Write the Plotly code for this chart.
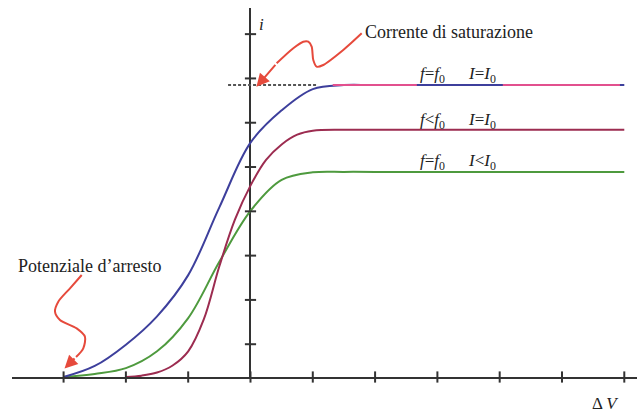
import plotly.graph_objects as go

# ---- data (axis units: x ticks every 1, y ticks every 1 offset) ----
x_ticks = [-3, -2, -1, 0, 1, 2, 3, 4, 5, 6]
y_ticks = [0.74, 1.74, 2.74, 3.74, 4.74, 5.74, 6.74, 7.74]

blue_x = [-3.0, -2.5, -2.0, -1.5, -1.0, -0.5, 0.0, 0.5, 1.0, 1.5, 2.0, 6.0]
blue_y = [0.0, 0.25, 0.73, 1.37, 2.30, 3.83, 5.29, 6.02, 6.50, 6.59, 6.59, 6.59]

red_x = [-2.0, -1.75, -1.5, -1.25, -1.0, -0.75, -0.5, -0.25, 0.0, 0.25, 0.5, 0.75, 1.0, 1.5, 2.0, 6.0]
red_y = [0.0, 0.03, 0.10, 0.26, 0.58, 1.30, 2.50, 3.55, 4.32, 4.90, 5.25, 5.47, 5.56, 5.58, 5.58, 5.58]

green_x = [-3.0, -2.5, -2.0, -1.5, -1.0, -0.5, 0.0, 0.5, 1.0, 1.5, 2.0, 6.0]
green_y = [0.0, 0.07, 0.20, 0.58, 1.33, 2.60, 3.75, 4.45, 4.62, 4.63, 4.63, 4.63]

pink_segments = [(1.32, 2.67), (4.05, 5.93)]
saturation_level = 6.59
dash_x = [-0.36, 1.07]

arrow1_x = [1.785, 1.489, 1.168, 1.062, 1.008, 0.982, 0.928, 0.847, 0.687, 0.420]
arrow1_y = [7.758, 7.381, 7.043, 7.005, 7.156, 7.456, 7.569, 7.569, 7.420, 7.081]
arrow1_tip = (0.095, 6.55)

arrow2_x = [-2.709, -2.897, -3.085, -3.138, -3.058, -2.790, -2.657, -2.684, -2.80]
arrow2_y = [2.302, 2.002, 1.700, 1.474, 1.287, 1.099, 0.910, 0.648, 0.45]
arrow2_tip = (-2.985, 0.19)

labels = [
    ("<i>f</i>=<i>f</i><sub>0</sub>", "<i>I</i>=<i>I</i><sub>0</sub>", 6.82),
    ("<i>f</i>&lt;<i>f</i><sub>0</sub>", "<i>I</i>=<i>I</i><sub>0</sub>", 5.78),
    ("<i>f</i>=<i>f</i><sub>0</sub>", "<i>I</i>&lt;<i>I</i><sub>0</sub>", 4.85),
]

X_RANGE = [-3.828, 6.204]
Y_RANGE = [0, 8.33]

AXIS_C = "#333333"
BLUE = "#3d3f9c"
RED = "#9c2c50"
GREEN = "#4e9a3e"
PINK = "#e2508e"
ARROW = "#e64a3c"
FONT = "Liberation Serif"

fig = go.Figure()

# dashed saturation line
fig.add_trace(go.Scatter(x=dash_x, y=[saturation_level] * 2, mode="lines",
                         line=dict(color="#555555", width=2, dash="3px,2px"), hoverinfo="skip"))

for xs, ys, c in [(green_x, green_y, GREEN), (red_x, red_y, RED), (blue_x, blue_y, BLUE)]:
    fig.add_trace(go.Scatter(x=xs, y=ys, mode="lines", line=dict(color=c, width=2, shape="spline", smoothing=1.0),
                             hoverinfo="skip"))

for a, b in pink_segments:
    fig.add_trace(go.Scatter(x=[a, b], y=[saturation_level] * 2, mode="lines",
                             line=dict(color=PINK, width=2), hoverinfo="skip"))

# tick marks
fig.add_trace(go.Scatter(x=x_ticks, y=[0] * len(x_ticks), mode="markers", cliponaxis=False,
                         marker=dict(symbol="line-ns", size=8, line=dict(color=AXIS_C, width=2)), hoverinfo="skip"))
fig.add_trace(go.Scatter(x=[0] * len(y_ticks), y=y_ticks, mode="markers", cliponaxis=False,
                         marker=dict(symbol="line-ew", size=8, line=dict(color=AXIS_C, width=2)), hoverinfo="skip"))

# squiggly arrows
for xs, ys in [(arrow1_x, arrow1_y), (arrow2_x, arrow2_y)]:
    fig.add_trace(go.Scatter(x=xs, y=ys, mode="lines", cliponaxis=False,
                             line=dict(color=ARROW, width=2, shape="spline", smoothing=0.8), hoverinfo="skip"))

annotations = []
for xs, ys, tip in [(arrow1_x, arrow1_y, arrow1_tip), (arrow2_x, arrow2_y, arrow2_tip)]:
    annotations.append(dict(x=tip[0], y=tip[1], ax=xs[-1], ay=ys[-1], axref="x", ayref="y", xref="x", yref="y",
                            text="", showarrow=True, arrowhead=2, arrowsize=1.3, arrowwidth=2,
                            arrowcolor=ARROW, standoff=0, startstandoff=0))

for left, right, yv in labels:
    annotations.append(dict(x=2.689, y=yv, text=left, showarrow=False, xanchor="left", yanchor="middle",
                            font=dict(family=FONT, size=17, color="#222")))
    annotations.append(dict(x=3.459, y=yv, text=right, showarrow=False, xanchor="left", yanchor="middle",
                            font=dict(family=FONT, size=17, color="#222")))

annotations.append(dict(x=1.806, y=7.79, text="Corrente di saturazione", showarrow=False, xanchor="left",
                        yanchor="middle", font=dict(family=FONT, size=18, color="#222")))
annotations.append(dict(x=-3.764, y=2.506, text="Potenziale d’arresto", showarrow=False, xanchor="left",
                        yanchor="middle", font=dict(family=FONT, size=18, color="#222")))
annotations.append(dict(x=0.10, y=7.95, text="<i>i</i>", showarrow=False, xanchor="left",
                        yanchor="middle", font=dict(family=FONT, size=17, color="#222")))
annotations.append(dict(x=5.45, xref="x", y=-0.073, yref="paper", text="Δ <i>V</i>", showarrow=False,
                        xanchor="left", yanchor="middle", font=dict(family=FONT, size=17, color="#222")))

fig.update_layout(
    width=639, height=413,
    margin=dict(l=12, r=2, t=8, b=36),
    paper_bgcolor="white", plot_bgcolor="white",
    showlegend=False,
    annotations=annotations,
    xaxis=dict(range=X_RANGE, showgrid=False, showticklabels=False, ticks="",
               zeroline=True, zerolinecolor=AXIS_C, zerolinewidth=2,
               showline=True, linecolor=AXIS_C, linewidth=2, mirror=False),
    yaxis=dict(range=Y_RANGE, showgrid=False, showticklabels=False, ticks="", zeroline=False, showline=False),
)

fig.write_html("out.html", config={"displayModeBar": False},
               post_script="document.body.style.margin='0';document.body.style.overflow='hidden';")
